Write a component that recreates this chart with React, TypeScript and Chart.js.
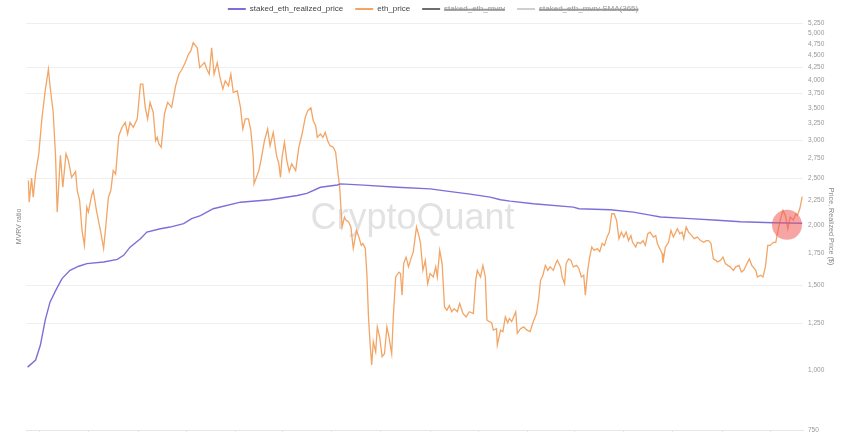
import React, { useEffect, useRef } from 'react';
import { Chart, registerables } from 'chart.js';

Chart.register(...registerables);

// Day offsets are counted from this date
const START_DATE = '2021-04-13';

// [day offset, price in $]
const ethPriceSeries: [number, number][] = [
  [4,2473],[5,2229],[8,2500],[10,2283],[13,2556],[17,2811],[21,3344],[25,3796],[29,4208],[31,3889],
  [35,3423],[38,2763],[40,2125],[44,2790],[47,2394],[51,2810],[54,2719],[58,2510],[63,2580],[65,2357],
  [68,2247],[71,1948],[74,1813],[77,2177],[79,2125],[83,2302],[85,2357],[89,2143],[94,1948],[98,1786],
  [101,2011],[104,2283],[107,2357],[110,2592],[113,2550],[117,3063],[121,3187],[125,3264],[128,3088],[131,3264],
  [135,3187],[140,3318],[144,3920],[147,3920],[150,3508],[153,3318],[156,3591],[160,3423],[163,2990],[165,3040],
  [167,2945],[170,2900],[174,3398],[178,3591],[183,3508],[188,3889],[192,4110],[196,4208],[200,4345],[204,4521],
  [207,4594],[210,4780],[215,4663],[218,4242],[224,4345],[227,4208],[230,4110],[233,4663],[236,4110],[240,4345],
  [243,4079],[247,3828],[250,3983],[254,3889],[257,4110],[260,3767],[265,3796],[269,3508],[272,3163],[275,3318],
  [279,3318],[282,3137],[285,2763],[286,2433],[289,2510],[292,2592],[295,2742],[299,2990],[303,3163],[306,2920],
  [310,3112],[314,2790],[317,2677],[319,2510],[321,2763],[324,2968],[327,2719],[330,2580],[333,2677],[338,2592],
  [342,2900],[346,3088],[350,3344],[353,3451],[357,3500],[360,3291],[363,3214],[365,3040],[369,3088],[372,3040],
  [375,3112],[378,2990],[381,2920],[385,2900],[388,2829],[390,2634],[393,2394],[396,1979],[399,2076],[401,2045],
  [404,2030],[407,1979],[410,1786],[414,1948],[417,1886],[420,1813],[422,1830],[425,1786],[427,1584],[429,1288],
  [431,1135],[433,1024],[435,1145],[438,1090],[440,1228],[443,1170],[446,1065],[449,1080],[452,1228],[454,1185],
  [458,1080],[460,1288],[463,1559],[467,1595],[469,1584],[471,1429],[473,1662],[476,1714],[479,1636],[482,1700],
  [485,1760],[489,1979],[492,1900],[494,1830],[497,1609],[500,1688],[503,1510],[506,1584],[510,1559],[513,1636],
  [515,1559],[518,1771],[521,1662],[524,1351],[527,1330],[530,1360],[533,1320],[536,1340],[540,1320],[543,1373],
  [547,1309],[551,1288],[555,1320],[560,1309],[563,1534],[565,1609],[569,1559],[572,1648],[575,1559],[577,1268],
  [580,1260],[583,1252],[585,1209],[589,1217],[590,1126],[594,1209],[597,1200],[600,1288],[603,1252],[605,1278],
  [608,1260],[613,1320],[615,1190],[619,1217],[623,1228],[627,1209],[631,1200],[635,1260],[639,1309],[642,1418],
  [644,1534],[647,1572],[650,1648],[653,1609],[656,1636],[660,1609],[663,1662],[665,1688],[669,1636],[671,1559],
  [674,1510],[676,1662],[679,1700],[682,1688],[685,1636],[689,1648],[692,1622],[695,1559],[698,1572],[700,1429],
  [703,1609],[705,1700],[708,1798],[711,1771],[715,1786],[718,1760],[721,1830],[724,1813],[727,1886],[730,1932],
  [733,2109],[736,2109],[739,2045],[742,1872],[745,1932],[748,1886],[751,1932],[754,1855],[757,1900],[759,1840],
  [763,1798],[765,1840],[769,1830],[772,1855],[775,1813],[778,1917],[781,1932],[785,1886],[788,1900],[790,1830],
  [794,1771],[796,1743],[797,1667],[800,1798],[804,1840],[807,1948],[810,1886],[815,1963],[818,1917],[821,1932],
  [823,1872],[826,1979],[829,1932],[833,1900],[836,1872],[840,1886],[844,1855],[848,1840],[851,1855],[854,1855],
  [857,1830],[860,1700],[863,1688],[865,1675],[869,1688],[872,1714],[875,1662],[878,1648],[881,1636],[885,1609],
  [888,1636],[892,1648],[895,1597],[898,1609],[902,1662],[905,1700],[908,1648],[913,1609],[915,1559],[919,1572],
  [922,1559],[925,1636],[928,1813],[931,1813],[935,1840],[938,1840],[940,1917],[944,2060],[947,2143],[950,2091],
  [953,1963],[956,2076],[960,2045],[963,2109],[965,2091],[968,2160],[971,2290],
];

// [day offset, staked ETH realized price in $]
const realizedPriceSeries: [number, number][] = [
  [3,1013],[13,1048],[19,1126],[25,1268],[31,1382],[38,1460],[46,1547],[56,1609],[67,1641],[77,1662],
  [98,1675],[115,1695],[123,1729],[131,1798],[144,1872],[152,1932],[169,1963],[181,1979],[198,2011],[208,2060],
  [219,2091],[235,2160],[269,2229],[306,2255],[340,2302],[352,2325],[369,2394],[390,2420],[394,2433],[423,2418],
  [465,2394],[506,2375],[527,2350],[556,2316],[581,2283],[594,2255],[606,2240],[635,2213],[685,2177],[692,2160],
  [731,2150],[760,2125],[781,2095],[794,2076],[831,2060],[865,2045],[894,2030],[935,2020],[971,2015],
];

const seriesNames = ['staked_eth_realized_price', 'eth_price', 'staked_eth_mvrv', 'staked_eth_mvrv SMA(365)'];
const seriesColors = ['#7b70d9', '#f2a565', '#6e6e6e', '#cfcfcf'];

const priceTicks = [750, 1000, 1250, 1500, 1750, 2000, 2250, 2500, 2750, 3000, 3250, 3500, 3750, 4000, 4250, 4500, 4750, 5000, 5250];
const gridTicks = [750, 1250, 1500, 2500, 3000, 3750, 4250, 5250];
const monthTicks = ['2021-05-01', '2021-07-01', '2021-09-01', '2021-11-01', '2022-01-01', '2022-03-01', '2022-05-01', '2022-07-01', '2022-09-01', '2022-11-01', '2023-01-01', '2023-03-01', '2023-05-01', '2023-07-01', '2023-09-01', '2023-11-01'];

const highlightPoint = { day: 952, value: 2000 };
const xRange = { min: 1, max: 972 };

const FONT = "'Liberation Sans', Arial, sans-serif";
const dayOf = (d: string) => Math.round((Date.parse(d) - Date.parse(START_DATE)) / 86400000);

const decorPlugin = {
  id: 'decor',
  beforeDraw(chart: any) {
    const lg = chart.legend;
    if (lg && !lg._shifted) {
      lg.left += 8;
      lg.right += 8;
      lg._shifted = true;
    }
  },
  beforeDatasetsDraw(chart: any) {
    const { ctx, chartArea } = chart;
    ctx.save();
    ctx.font = `36px 'Liberation Sans', Arial, sans-serif`;
    ctx.fillStyle = 'rgba(150,150,155,0.28)';
    ctx.textAlign = 'center';
    ctx.textBaseline = 'middle';
    ctx.fillText('CryptoQuant', (chartArea.left + chartArea.right) / 2 - 2, (chartArea.top + chartArea.bottom) / 2 - 7);
    ctx.restore();
  },
  afterDatasetsDraw(chart: any) {
    const { ctx } = chart;
    const x = chart.scales.x.getPixelForValue(highlightPoint.day);
    const y = chart.scales.y.getPixelForValue(highlightPoint.value);
    ctx.save();
    ctx.beginPath();
    ctx.arc(x, y, 15, 0, Math.PI * 2);
    ctx.fillStyle = 'rgba(240,90,90,0.55)';
    ctx.fill();
    ctx.restore();
  },
};

export default function App() {
  const ref = useRef<HTMLCanvasElement>(null);
  useEffect(() => {
    if (!ref.current) return;
    const chart = new Chart(ref.current, {
      type: 'line',
      data: {
        datasets: [
          {
            label: seriesNames[0],
            data: realizedPriceSeries.map(([x, y]) => ({ x, y })),
            borderColor: seriesColors[0],
            backgroundColor: seriesColors[0],
            borderWidth: 1.4,
            pointRadius: 0,
            yAxisID: 'y',
          },
          {
            label: seriesNames[1],
            data: ethPriceSeries.map(([x, y]) => ({ x, y })),
            borderColor: seriesColors[1],
            backgroundColor: seriesColors[1],
            borderWidth: 1.3,
            pointRadius: 0,
            yAxisID: 'y',
          },
          {
            label: seriesNames[2],
            data: [],
            borderColor: seriesColors[2],
            backgroundColor: seriesColors[2],
            hidden: true,
            yAxisID: 'y1',
          },
          {
            label: seriesNames[3],
            data: [],
            borderColor: seriesColors[3],
            backgroundColor: seriesColors[3],
            hidden: true,
            yAxisID: 'y1',
          },
        ],
      },
      options: {
        responsive: false,
        animation: false,
        events: [],
        layout: { padding: { left: 14, right: 14, top: -7, bottom: 2 } },
        plugins: {
          tooltip: { enabled: false },
          legend: {
            position: 'top',
            labels: {
              boxWidth: 18,
              boxHeight: 2,
              padding: 12,
              color: '#444',
              font: { family: FONT, size: 8 },
              generateLabels: (chart: any) => {
                const items = Chart.defaults.plugins.legend.labels.generateLabels(chart);
                return items.map((it: any) => ({ ...it, lineWidth: 0, fontColor: it.hidden ? '#999' : '#444' }));
              },
            },
          },
        },
        scales: {
          x: {
            type: 'linear',
            min: xRange.min,
            max: xRange.max,
            afterBuildTicks: (scale: any) => {
              scale.ticks = monthTicks.map((m) => ({ value: dayOf(m) }));
            },
            afterFit: (s: any) => { s.height = 0; },
            ticks: { display: false },
            grid: { drawOnChartArea: false, drawTicks: true, tickLength: 3, color: '#e6e6e6' },
            border: { display: true, color: '#e6e6e6' },
          },
          y1: {
            type: 'linear',
            position: 'left',
            ticks: { display: false },
            grid: { display: false },
            border: { display: false },
            afterFit: (s: any) => { s.width = 12; },
            title: { display: true, text: 'MVRV ratio', color: '#888', font: { family: FONT, size: 7 }, padding: 1 },
          },
          y: {
            type: 'logarithmic',
            position: 'right',
            min: 750,
            max: 5250,
            afterBuildTicks: (scale: any) => {
              scale.ticks = priceTicks.map((v) => ({ value: v }));
            },
            afterFit: (s: any) => { s.width = 33; s.paddingBottom = 0; },
            ticks: {
              color: '#999',
              padding: 5,
              font: { family: FONT, size: 6.5 },
              callback: (v: any) => Number(v).toLocaleString('en-US'),
            },
            grid: {
              drawTicks: false,
              color: (c: any) => (gridTicks.includes(c.tick?.value) ? '#efefef' : 'rgba(0,0,0,0)'),
            },
            border: { display: false },
            title: { display: true, text: 'Price, Realized Price ($)', color: '#888', font: { family: FONT, size: 7.2 }, padding: 1 },
          },
        },
      } as any,
      plugins: [decorPlugin],
    });
    return () => chart.destroy();
  }, []);
  return (
    <div style={{ position: 'fixed', left: 0, top: 0, width: 850, height: 432, background: '#fff' }}>
      <canvas ref={ref} width={850} height={432} style={{ display: 'block' }} />
    </div>
  );
}
